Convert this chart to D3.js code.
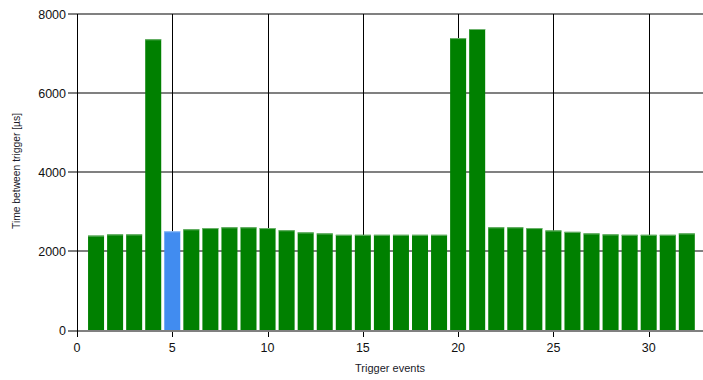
<!DOCTYPE html>
<html>
<head>
<meta charset="utf-8">
<script src="https://cdn.jsdelivr.net/npm/d3@7"></script>
<style>
  body { margin: 0; background: #fff; }
  svg { display: block; font-family: "Liberation Sans", Arial, sans-serif; }
</style>
</head>
<body>
<svg id="chart" width="703" height="380"></svg>
<script>
//
// Data
//
const events = d3.range(1, 33);
const times = [2390, 2420, 2420, 7360, 2500, 2550, 2580, 2600, 2600, 2580,
               2525, 2470, 2445, 2410, 2410, 2410, 2410, 2410, 2410, 7390,
               7620, 2600, 2600, 2580, 2520, 2485, 2445, 2420, 2410, 2410,
               2410, 2445];
const highlighted = [5];
const xTicks = [0, 5, 10, 15, 20, 25, 30];
const yTicks = [0, 2000, 4000, 6000, 8000];

//
// Configuration
//
const colorBar = '#008000';
const colorBarTop = '#6fb36f';
const colorHighlight = '#418CF0';
const colorHighlightTop = '#9cc4f7';
const colorHGrid = '#808080';
const colorVGrid = '#000';
const margin = {left: 77, right: 0, top: 14, bottom: 50};
const width = 703, height = 380;

const svg = d3.select('#chart');

const x = d3.scaleLinear().domain([0, 32.85]).range([margin.left, width - margin.right]);
const y = d3.scaleLinear().domain([0, 8000]).range([height - margin.bottom, margin.top]);
const barW = 16;

// horizontal grid
svg.append('g')
  .selectAll('line')
  .data(yTicks.filter(d => d > 0))
  .join('line')
    .attr('x1', x(0) - 9).attr('x2', width)
    .attr('y1', d => y(d)).attr('y2', d => y(d))
    .attr('stroke', colorHGrid).attr('stroke-width', 2);

// vertical grid
svg.append('g')
  .selectAll('line')
  .data(xTicks.filter(d => d > 0))
  .join('line')
    .attr('x1', d => Math.round(x(d)) + 0.5).attr('x2', d => Math.round(x(d)) + 0.5)
    .attr('y1', y(8000)).attr('y2', y(0) + 7)
    .attr('stroke', colorVGrid).attr('stroke-width', 1);

// bars
const bars = svg.append('g');
bars.selectAll('rect')
  .data(events)
  .join('rect')
    .attr('x', (d) => x(d) - barW / 2)
    .attr('width', barW)
    .attr('y', (d, i) => y(times[i]))
    .attr('height', (d, i) => y(0) - y(times[i]))
    .attr('fill', d => highlighted.includes(d) ? colorHighlight : colorBar);
bars.selectAll('line')
  .data(events)
  .join('line')
    .attr('x1', (d) => x(d) - barW / 2)
    .attr('x2', (d) => x(d) + barW / 2)
    .attr('y1', (d, i) => y(times[i]) + 0.5)
    .attr('y2', (d, i) => y(times[i]) + 0.5)
    .attr('stroke', d => highlighted.includes(d) ? colorHighlightTop : colorBarTop);

// x axis line (baseline)
svg.append('line')
  .attr('x1', x(0) - 9).attr('x2', width)
  .attr('y1', y(0) + 1).attr('y2', y(0) + 1)
  .attr('stroke', colorHGrid).attr('stroke-width', 2);

// y axis line
svg.append('line')
  .attr('x1', Math.round(x(0)) + 0.5).attr('x2', Math.round(x(0)) + 0.5)
  .attr('y1', y(8000)).attr('y2', y(0) + 7)
  .attr('stroke', '#000');

// y tick labels
svg.append('g')
  .selectAll('text')
  .data(yTicks)
  .join('text')
    .attr('x', x(0) - 11)
    .attr('y', d => y(d))
    .attr('dy', '0.36em')
    .attr('text-anchor', 'end')
    .attr('font-size', 12.5)
    .attr('fill', '#111')
    .text(d => d);

// x tick labels
svg.append('g')
  .selectAll('text')
  .data(xTicks)
  .join('text')
    .attr('x', d => x(d))
    .attr('y', y(0) + 17)
    .attr('dy', '0.36em')
    .attr('text-anchor', 'middle')
    .attr('font-size', 12.5)
    .attr('fill', '#111')
    .text(d => d);

// axis titles
svg.append('text')
  .attr('x', 390).attr('y', 368)
  .attr('dy', '0.36em')
  .attr('text-anchor', 'middle')
  .attr('font-size', 11)
  .attr('fill', '#1a1a2a')
  .text('Trigger events');

svg.append('text')
  .attr('transform', 'translate(16,171) rotate(-90)')
  .attr('dy', '0.36em')
  .attr('text-anchor', 'middle')
  .attr('font-size', 10.3)
  .attr('fill', '#1a1a2a')
  .text('Time between trigger [µs]');
</script>
</body>
</html>
